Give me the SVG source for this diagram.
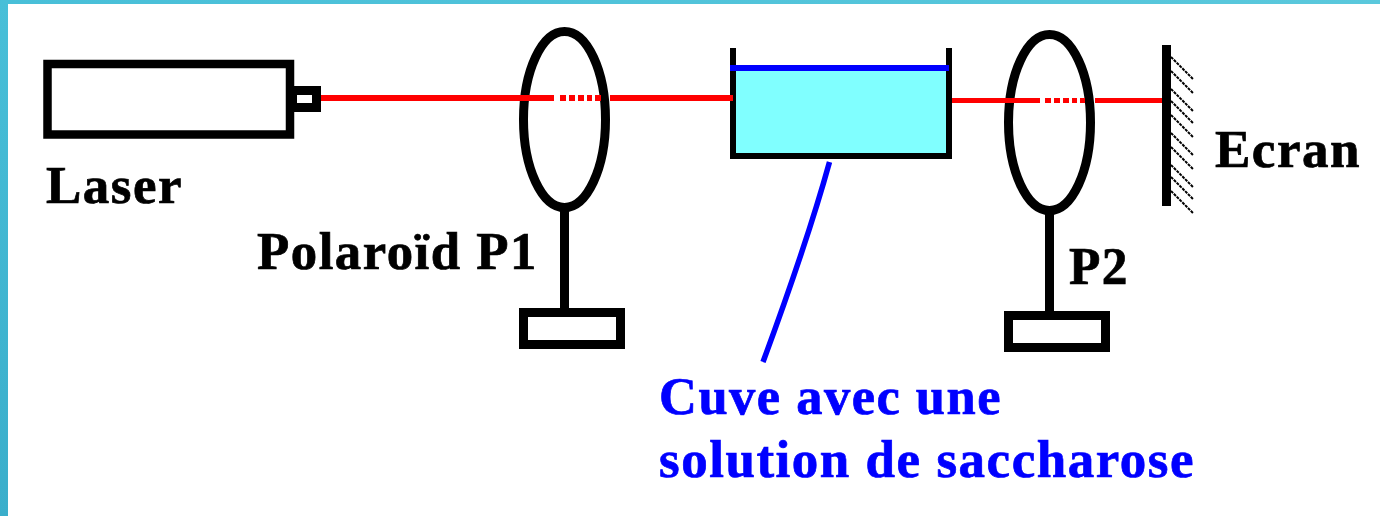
<svg xmlns="http://www.w3.org/2000/svg" width="1380" height="516" viewBox="0 0 1380 516">
<style>
.k{fill:none;stroke:#000;stroke-width:9}
.kf{fill:#000}
.r{fill:#f00}
.h{stroke:#000;stroke-width:2;fill:none;stroke-dasharray:3 1}
text{font-family:"Liberation Serif","Times New Roman",serif;font-weight:700;font-size:52px;letter-spacing:1.500px;fill:#000;stroke:#000;stroke-width:.7}
text.b{fill:#0000ff;stroke:#0000ff}
.b{fill:#0000ff}
</style>
<defs>
<linearGradient id="fl" x1="0" y1="0" x2="0" y2="1"><stop offset="0" stop-color="#48bfd8"/><stop offset="1" stop-color="#3aaecb"/></linearGradient>
<linearGradient id="ft" x1="0" y1="0" x2="1" y2="0"><stop offset="0" stop-color="#48bfd8"/><stop offset="1" stop-color="#5ac8dc"/></linearGradient>
</defs>
<rect width="1380" height="516" fill="#fff"/>
<g id="frame">
<rect x="0" y="0" width="1380" height="4" fill="url(#ft)"/>
<rect x="0" y="0" width="8" height="516" fill="url(#fl)"/>
</g>
<g id="laser">
<rect x="47.500" y="64" width="242.500" height="70.500" fill="#fff" stroke="#000" stroke-width="8.500"/>
<path class="kf" fill-rule="evenodd" d="M293 86H321V112H293ZM297 95V103H312V95Z"/>
<text x="46" y="203" textLength="137" lengthAdjust="spacingAndGlyphs">Laser</text>
</g>
<g id="polaroid-p1">
<ellipse class="k" cx="564.500" cy="119.500" rx="41" ry="88"/>
<rect class="kf" x="560" y="210" width="9" height="100"/>
<rect class="k" x="523.500" y="312.500" width="97" height="32"/>
<text x="257" y="269" textLength="281" lengthAdjust="spacingAndGlyphs">Polaroïd P1</text>
</g>
<g id="cuve">
<rect x="733" y="68" width="216" height="88" fill="#80ffff"/>
<path d="M733 48V156H949V48" fill="none" stroke="#000" stroke-width="6"/>
<rect class="b" x="730" y="65" width="219" height="6"/>
</g>
<g id="polaroid-p2">
<ellipse class="k" cx="1049.500" cy="122.500" rx="41" ry="88"/>
<rect class="kf" x="1045" y="213" width="9" height="100"/>
<rect class="k" x="1008.500" y="315.500" width="97" height="32"/>
<text x="1069" y="284" textLength="60" lengthAdjust="spacingAndGlyphs">P2</text>
</g>
<g id="ecran">
<rect class="kf" x="1162" y="45" width="9" height="161"/>
<path class="h" d="M1171 57l22 22M1171 71l22 22M1171 89l22 22M1171 101l22 22M1171 115l22 22M1171 133l22 22M1171 147l22 22M1171 165l22 22M1171 177l22 22M1171 191l22 22"/>
<text x="1215" y="167" textLength="146" lengthAdjust="spacingAndGlyphs">Ecran</text>
</g>
<g id="connectors">
<path class="r" d="M321 95H554V101H321ZM560 95h6v6h-6ZM569 95h6v6h-6ZM578 95h6v6h-6ZM587 95h5v6h-5ZM595 95h6v6h-6ZM610 95H733V101H610Z"/>
<path class="r" d="M952 98H1040V103H952ZM1045 98h6v5h-6ZM1054 98h6v5h-6ZM1063 98h6v5h-6ZM1072 98h5v5h-5ZM1080 98h5v5h-5ZM1095 98H1162V103H1095Z"/>
<path d="M829.500 162Q808 240 763 362" fill="none" stroke="#0000ff" stroke-width="5.500"/>
</g>
<g id="legende">
<text class="b" x="659" y="414" textLength="343" lengthAdjust="spacingAndGlyphs">Cuve avec une</text>
<text class="b" x="659" y="477" textLength="536" lengthAdjust="spacingAndGlyphs">solution de saccharose</text>
</g>
</svg>
